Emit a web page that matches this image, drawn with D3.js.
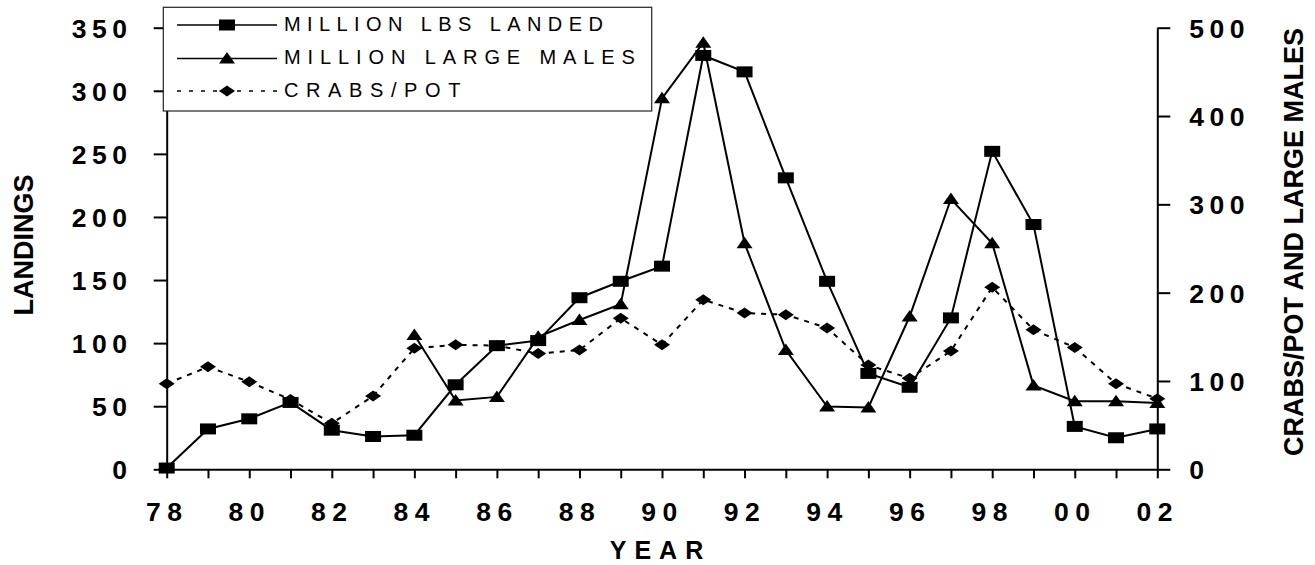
<!DOCTYPE html>
<html>
<head>
<meta charset="utf-8">
<script src="https://cdn.jsdelivr.net/npm/d3@7"></script>
<style>
  html, body { margin: 0; padding: 0; background: #fff; }
  svg { display: block; }
  text { font-family: "Liberation Sans", Arial, sans-serif; fill: #000; }
</style>
</head>
<body>
<svg id="chart" width="1315" height="565"></svg>
<script>
// ---- data ----
const years = [1978,1979,1980,1981,1982,1983,1984,1985,1986,1987,1988,1989,1990,1991,1992,1993,1994,1995,1996,1997,1998,1999,2000,2001,2002];
const landings = [1, 32, 40, 53, 31, 26, 27, 67, 98, 102, 136, 149, 161, 328, 315, 231, 149, 76, 65, 120, 252, 194, 34, 25, 32];
const largeMales = [null, null, null, null, null, null, 152, 78, 82, 150, 169, 187, 420, 483, 256, 135, 71, 70, 173, 306, 256, 95, 77, 77, 75];
const crabsPerPot = [97, 116, 99, 79, 52, 83, 137, 141, 140, 131, 135, 171, 141, 192, 177, 175, 160, 118, 103, 134, 206, 158, 138, 97, 80];
const leftTicks = [0, 50, 100, 150, 200, 250, 300, 350];
const rightTicks = [0, 100, 200, 300, 400, 500];
const xLabelYears = [1978,1980,1982,1984,1986,1988,1990,1992,1994,1996,1998,2000,2002];
const legendLabels = ["MILLION LBS LANDED", "MILLION LARGE MALES", "CRABS/POT"];

// ---- layout ----
const svg = d3.select("#chart");
const X0 = 166.7, X1 = 1157.3, Y0 = 469.3, Y1 = 27.7;
const x = d3.scaleLinear().domain([1978, 2002]).range([X0, X1]);
const yL = d3.scaleLinear().domain([0, 350]).range([Y0, Y1]);
const yR = d3.scaleLinear().domain([0, 500]).range([Y0, Y1]);

const tickFont = 26.5, tickLS = 5.5;

function styleAxis(g) {
  g.selectAll("path.domain").attr("stroke", "#000").attr("stroke-width", 2);
  g.selectAll(".tick line").attr("stroke", "#000").attr("stroke-width", 2);
  g.selectAll(".tick text")
    .style("font-family", '"Liberation Sans", Arial, sans-serif')
    .style("font-size", tickFont + "px")
    .style("font-weight", "bold")
    .style("letter-spacing", tickLS + "px")
    .attr("fill", "#000");
}

// x axis
const gx = svg.append("g").attr("transform", `translate(0,${Y0})`)
  .call(d3.axisBottom(x).tickValues(years).tickSize(9).tickSizeOuter(0)
    .tickFormat(d => xLabelYears.includes(d) ? String(d % 100).padStart(2, "0") : ""));
styleAxis(gx);
gx.selectAll(".tick text").attr("y", 52.2).attr("dy", 0).style("letter-spacing", "6.5px");

// left axis
const gl = svg.append("g").attr("transform", `translate(${X0},0)`)
  .call(d3.axisLeft(yL).tickValues(leftTicks).tickSize(13).tickSizeOuter(0));
styleAxis(gl);
gl.selectAll(".tick text").attr("x", -39.7 + tickLS).attr("dy", "0.358em");

// right axis
const gr = svg.append("g").attr("transform", `translate(${X1},0)`)
  .call(d3.axisRight(yR).tickValues(rightTicks).tickSize(13).tickSizeOuter(0));
styleAxis(gr);
gr.selectAll(".tick text").attr("x", 32).attr("dy", "0.358em");

// axis titles
svg.append("text").attr("transform", "translate(33.3,245) rotate(-90)")
  .attr("text-anchor", "middle").style("font-size", "27px").style("font-weight", "bold")
  .text("LANDINGS");
svg.append("text").attr("transform", "translate(1303,242) rotate(-90)")
  .attr("text-anchor", "middle").style("font-size", "27px").style("font-weight", "bold")
  .text("CRABS/POT AND LARGE MALES");
svg.append("text").attr("x", 660.5).attr("y", 559)
  .attr("text-anchor", "middle").style("font-size", "25px").style("font-weight", "bold")
  .style("letter-spacing", "8px")
  .text("YEAR");

// ---- markers ----
const MW = 16, MH = 11;
function square(g, cx, cy) {
  g.append("rect").attr("x", cx - MW / 2).attr("y", cy - MH / 2).attr("width", MW).attr("height", MH).attr("fill", "#000");
}
function triangle(g, cx, cy) {
  g.append("path").attr("d", `M${cx},${cy - 6.5}L${cx + MW / 2},${cy + 5}L${cx - MW / 2},${cy + 5}Z`).attr("fill", "#000");
}
function diamond(g, cx, cy) {
  g.append("path").attr("d", `M${cx},${cy - MH / 2}L${cx + MW / 2},${cy}L${cx},${cy + MH / 2}L${cx - MW / 2},${cy}Z`).attr("fill", "#000");
}

// ---- series ----
const plot = svg.append("g");
const series = [
  { vals: crabsPerPot, scale: yR, dash: "5,6", marker: diamond },
  { vals: largeMales, scale: yR, dash: null, marker: triangle },
  { vals: landings, scale: yL, dash: null, marker: square }
];
series.forEach(s => {
  const pts = years.map((yr, i) => ({ yr, v: s.vals[i] }));
  const line = d3.line().defined(d => d.v != null).x(d => x(d.yr)).y(d => s.scale(d.v));
  plot.append("path").datum(pts).attr("d", line)
    .attr("fill", "none").attr("stroke", "#000").attr("stroke-width", 2)
    .attr("stroke-dasharray", s.dash);
  const mg = plot.append("g");
  pts.filter(d => d.v != null).forEach(d => s.marker(mg, x(d.yr), s.scale(d.v)));
});

// ---- legend ----
const lg = svg.append("g");
lg.append("rect").attr("x", 163.3).attr("y", 7.3).attr("width", 488.4).attr("height", 103.7)
  .attr("fill", "#fff").attr("stroke", "#222").attr("stroke-width", 1.2);
const legendRows = [
  { label: legendLabels[0], dash: null, marker: square, ly: 25, ty: 30.7, ls: 6.4 },
  { label: legendLabels[1], dash: null, marker: triangle, ly: 58.5, ty: 63.5, ls: 6.9 },
  { label: legendLabels[2], dash: "4,8", marker: diamond, ly: 91, ty: 96.7, ls: 7.6 }
];
legendRows.forEach(r => {
  lg.append("line").attr("x1", 177).attr("x2", 277).attr("y1", r.ly).attr("y2", r.ly)
    .attr("stroke", "#000").attr("stroke-width", 1.5).attr("stroke-dasharray", r.dash);
  r.marker(lg, 227, r.ly);
  lg.append("text").attr("x", 284).attr("y", r.ty)
    .style("font-size", "20px").style("letter-spacing", r.ls + "px").text(r.label);
});
</script>
</body>
</html>
